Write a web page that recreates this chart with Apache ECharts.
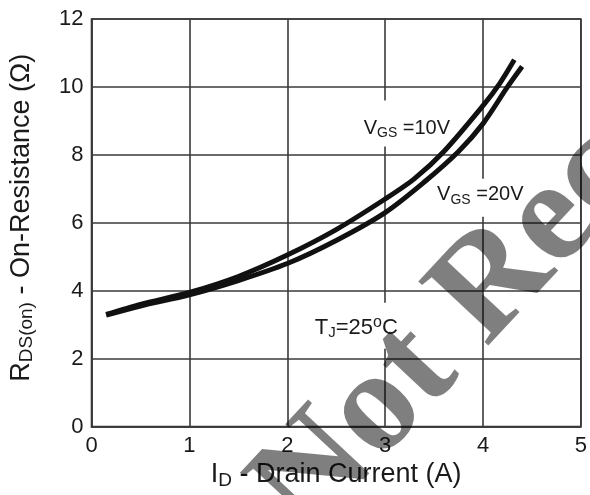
<!DOCTYPE html>
<html><head><meta charset="utf-8">
<script src="https://cdn.jsdelivr.net/npm/echarts@6/dist/echarts.min.js"></script>
<style>html,body{margin:0;padding:0;background:#fff}#c{width:590px;height:495px}</style>
</head><body><div id="c"></div>
<script>
// Drain current (A) and on-resistance (Ohm) for each gate voltage
const current10 = [0.15, 0.5, 1.0, 1.5, 2.0, 2.5, 3.0, 3.3, 3.6, 4.0, 4.17, 4.32];
const rds10     = [3.30, 3.60, 3.95, 4.42, 5.05, 5.80, 6.70, 7.30, 8.10, 9.45, 10.10, 10.80];
const current20 = [0.15, 0.5, 1.0, 1.5, 2.0, 2.5, 3.0, 3.4, 3.75, 4.0, 4.25, 4.40];
const rds20     = [3.28, 3.55, 3.88, 4.30, 4.80, 5.48, 6.30, 7.20, 8.10, 8.92, 10.00, 10.60];
const xRange = [0, 5, 1];
const yRange = [0, 12, 2];
const xTitle = '{m|I}{s|D}{m| - Drain Current (A)}';
const yTitle = '{m|R}{s|DS(on)}{m| - On-Resistance (Ω)}';
const notes = [
  {text: '{v|V}{s|GS}{v| =10V}', at: [2.74, 8.92], padding: [16, 4, 6, 4]},
  {text: '{v|V}{s|GS}{v| =20V}', at: [3.49, 6.74], padding: [4, 4, 10, 4]},
  {text: '{t|T}{u|J}{t|=25}{p|o}{t|C}', at: [2.24, 2.97], padding: [12, 4, 8, 4]}
];
const watermark = 'Not Recommended';

const FONT = 'Arial, "Liberation Sans", Helvetica, sans-serif';
const INK = '#1a1a1a';
const GRIDC = '#3a3a3a';

const chart = echarts.init(document.getElementById('c'), null, {renderer: 'canvas'});
const pair = (xs, ys) => xs.map((x, i) => [x, ys[i]]);

chart.setOption({
  animation: false,
  backgroundColor: '#fff',
  grid: {left: 90, right: 2, top: 19, bottom: 63, show: true, borderColor: GRIDC, borderWidth: 1.6, backgroundColor: 'transparent'},
  xAxis: {
    type: 'value', min: xRange[0], max: xRange[1], interval: xRange[2],
    axisLine: {show: true, lineStyle: {color: GRIDC, width: 1.6}},
    axisTick: {show: false},
    splitLine: {show: true, lineStyle: {color: GRIDC, width: 1.6}},
    axisLabel: {fontSize: 22, fontFamily: FONT, color: INK, margin: 8},
    name: xTitle, nameLocation: 'middle', nameGap: 31,
    nameTextStyle: {rich: {
      m: {fontSize: 27, fontFamily: FONT, color: INK, lineHeight: 30},
      s: {fontSize: 19, fontFamily: FONT, color: INK, verticalAlign: 'bottom', lineHeight: 24}
    }}
  },
  yAxis: {
    type: 'value', min: yRange[0], max: yRange[1], interval: yRange[2],
    axisLine: {show: true, lineStyle: {color: GRIDC, width: 1.6}},
    axisTick: {show: false},
    splitLine: {show: true, lineStyle: {color: GRIDC, width: 1.6}},
    axisLabel: {fontSize: 22, fontFamily: FONT, color: INK, margin: 8},
    name: yTitle, nameLocation: 'middle', nameGap: 55,
    nameTextStyle: {padding: [0, 0, 0, 10], rich: {
      m: {fontSize: 27, fontFamily: FONT, color: INK, lineHeight: 30},
      s: {fontSize: 19, fontFamily: FONT, color: INK, verticalAlign: 'bottom', lineHeight: 24}
    }}
  },
  series: [
    {name: 'VGS=10V', type: 'line', data: pair(current10, rds10), smooth: 0.3,
     symbol: 'none', lineStyle: {color: '#111', width: 5}, z: 3},
    {name: 'VGS=20V', type: 'line', data: pair(current20, rds20), smooth: 0.3,
     symbol: 'none', lineStyle: {color: '#111', width: 5}, z: 3}
  ]
});

const richNote = {
  v: {fontSize: 20, fontFamily: FONT, fill: INK, lineHeight: 24},
  s: {fontSize: 14, fontFamily: FONT, fill: INK, verticalAlign: 'bottom', lineHeight: 15},
  t: {fontSize: 22, fontFamily: FONT, fill: INK, lineHeight: 26},
  u: {fontSize: 15, fontFamily: FONT, fill: INK, verticalAlign: 'bottom', lineHeight: 16},
  p: {fontSize: 16, fontFamily: FONT, fill: INK, verticalAlign: 'top', lineHeight: 24}
};
const els = notes.map(n => {
  const p = chart.convertToPixel({gridIndex: 0}, n.at);
  return {
    type: 'text', x: p[0], y: p[1], z: 2,
    style: {text: n.text, rich: richNote, verticalAlign: 'middle', align: 'left',
            backgroundColor: '#fff', padding: n.padding}
  };
});
els.push({
  type: 'text', x: 280, y: 514, rotation: 47 * Math.PI / 180, z: 10, silent: true,
  style: {text: watermark, font: 'bold 145px "Liberation Serif", "Times New Roman", serif',
          fill: 'rgba(0,0,0,0.5)', verticalAlign: 'middle', align: 'left'}
});
chart.setOption({graphic: {elements: els}});
</script></body></html>
